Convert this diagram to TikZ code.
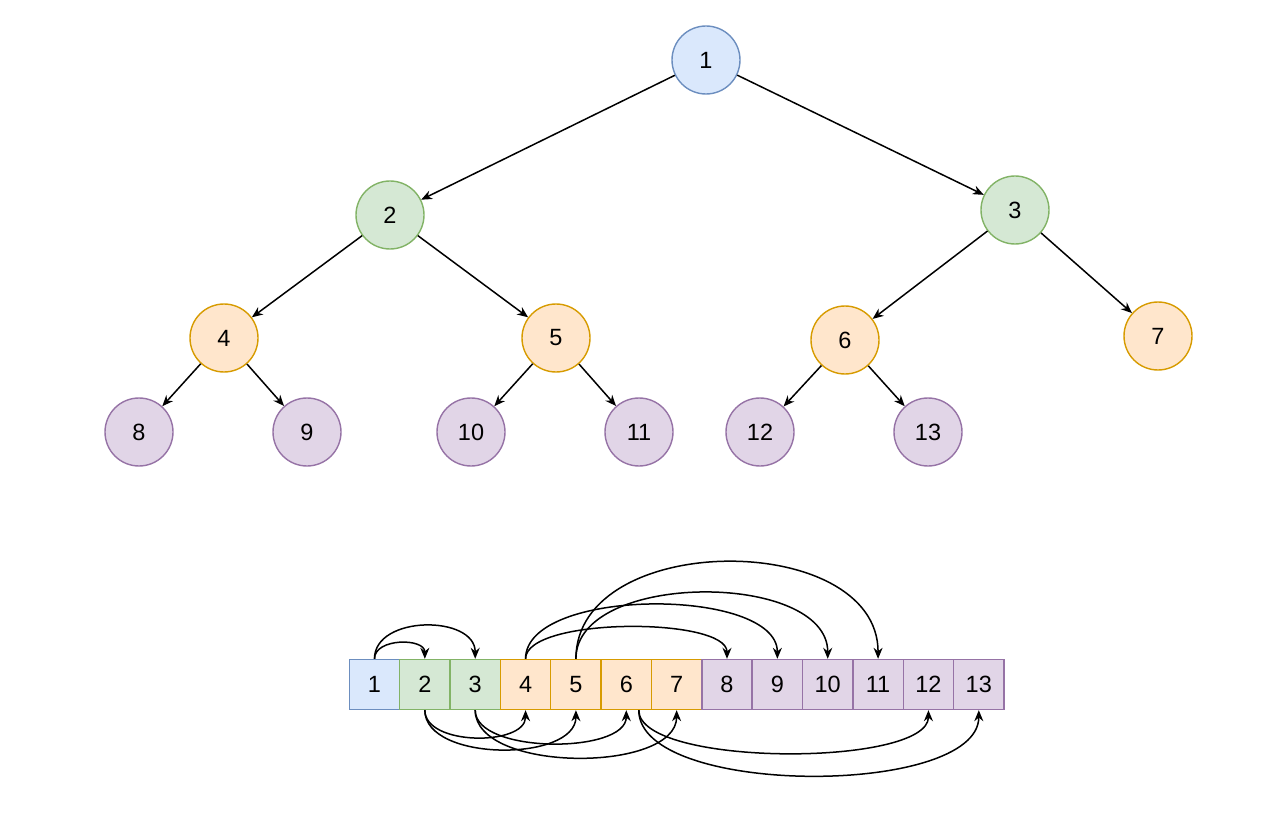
\documentclass[tikz,border=0pt]{standalone}
\usepackage{fontspec}
\setmainfont{Liberation Sans}
\usetikzlibrary{arrows.meta,calc}
\definecolor{bF}{HTML}{DAE8FC}\definecolor{bD}{HTML}{6C8EBF}
\definecolor{gF}{HTML}{D5E8D4}\definecolor{gD}{HTML}{82B366}
\definecolor{oF}{HTML}{FFE6CC}\definecolor{oD}{HTML}{D79B00}
\definecolor{pF}{HTML}{E1D5E7}\definecolor{pD}{HTML}{9673A6}
\begin{document}
\begin{tikzpicture}[x=1pt,y=-1pt,
  txt/.style={font=\fontsize{23.5}{27}\selectfont},
  circ/.style={circle,minimum size=68pt,inner sep=0pt,line width=1.4pt,txt},
  cell/.style={rectangle,minimum width=50.36pt,minimum height=50pt,inner sep=0pt,line width=1.4pt,txt},
  blu/.style={fill=bF,draw=bD},
  grn/.style={fill=gF,draw=gD},
  org/.style={fill=oF,draw=oD},
  pur/.style={fill=pF,draw=pD},
  arr/.style={-{Stealth[length=11pt,width=9pt]},line width=1.5pt,black}]
\useasboundingbox (0,0) rectangle (1280,818);
% tree
\node[circ,blu] (n1) at (706,60) {1};
\node[circ,grn] (n2) at (390,215) {2};
\node[circ,grn] (n3) at (1015,210) {3};
\node[circ,org] (n4) at (224,338) {4};
\node[circ,org] (n5) at (556,338) {5};
\node[circ,org] (n6) at (845,340) {6};
\node[circ,org] (n7) at (1158,336) {7};
\node[circ,pur] (n8) at (139,432) {8};
\node[circ,pur] (n9) at (307,432) {9};
\node[circ,pur] (n10) at (471,432) {10};
\node[circ,pur] (n11) at (639,432) {11};
\node[circ,pur] (n12) at (760,432) {12};
\node[circ,pur] (n13) at (928,432) {13};
\draw[arr] (n1) -- (n2);
\draw[arr] (n1) -- (n3);
\draw[arr] (n2) -- (n4);
\draw[arr] (n2) -- (n5);
\draw[arr] (n3) -- (n6);
\draw[arr] (n3) -- (n7);
\draw[arr] (n4) -- (n8);
\draw[arr] (n4) -- (n9);
\draw[arr] (n5) -- (n10);
\draw[arr] (n5) -- (n11);
\draw[arr] (n6) -- (n12);
\draw[arr] (n6) -- (n13);
% array
\foreach \i/\s in {1/blu,2/grn,3/grn,4/org,5/org,6/org,7/org,8/pur,9/pur,10/pur,11/pur,12/pur,13/pur}{
  \node[cell,\s] (a\i) at ({349.3+50.36*(\i-0.5)},684.5) {\i};
}
% top arcs
\draw[arr] (a1.north) .. controls +(0,-21) and +(0,-21) .. (a2.north);
\draw[arr] (a1.north) .. controls +(0,-44) and +(0,-44) .. (a3.north);
\draw[arr] (a4.north) .. controls +(0,-42) and +(0,-42) .. (a8.north);
\draw[arr] (a4.north) .. controls +(0,-72) and +(0,-72) .. (a9.north);
\draw[arr] (a5.north) .. controls +(0,-88) and +(0,-88) .. (a10.north);
\draw[arr] (a5.north) .. controls +(0,-129) and +(0,-129) .. (a11.north);
% bottom arcs
\draw[arr] (a2.south) .. controls +(0,36) and +(0,36) .. (a4.south);
\draw[arr] (a2.south) .. controls +(0,52) and +(0,52) .. (a5.south);
\draw[arr] (a3.south) .. controls +(0,44) and +(0,44) .. (a6.south);
\draw[arr] (a3.south) .. controls +(0,63) and +(0,63) .. (a7.south);
\coordinate (s6) at ($(a6.south)+(12.5,0)$);
\draw[arr] (s6) .. controls +(0,57) and +(0,57) .. (a12.south);
\draw[arr] (s6) .. controls +(0,87) and +(0,87) .. (a13.south);
\end{tikzpicture}
\end{document}
